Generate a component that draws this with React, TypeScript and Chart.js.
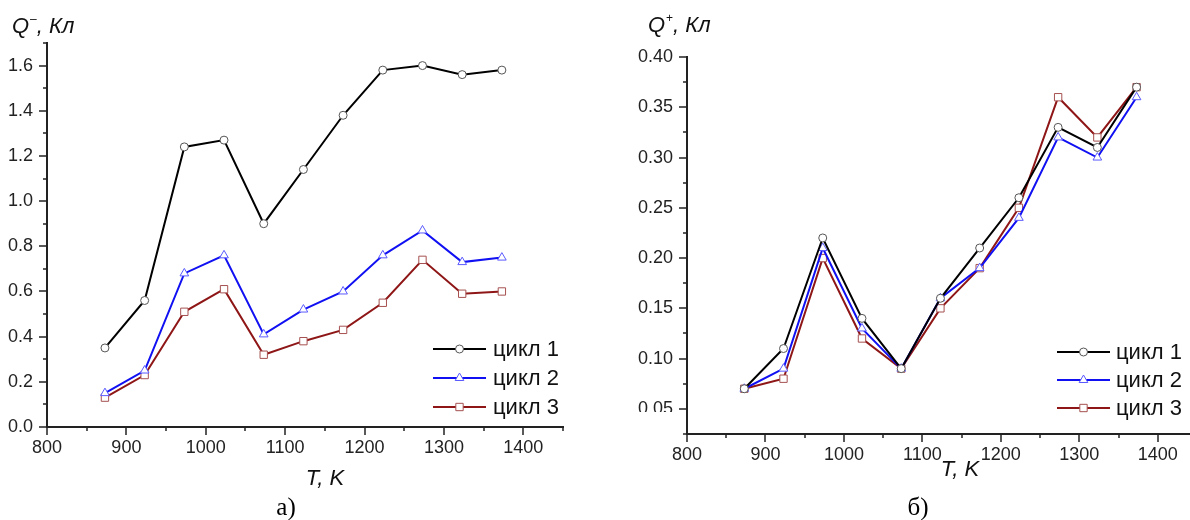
import React, { useEffect, useRef } from 'react';
import { Chart, registerables } from 'chart.js';

Chart.register(...registerables);

// ---------- data ----------
const temperatures = [873, 923, 973, 1023, 1073, 1123, 1173, 1223, 1273, 1323, 1373];

const qNegCycle1 = [0.35, 0.56, 1.24, 1.27, 0.9, 1.14, 1.38, 1.58, 1.6, 1.56, 1.58];
const qNegCycle2 = [0.15, 0.25, 0.68, 0.76, 0.41, 0.52, 0.6, 0.76, 0.87, 0.73, 0.75];
const qNegCycle3 = [0.13, 0.23, 0.51, 0.61, 0.32, 0.38, 0.43, 0.55, 0.74, 0.59, 0.6];

const qPosCycle1 = [0.07, 0.11, 0.22, 0.14, 0.09, 0.16, 0.21, 0.26, 0.33, 0.31, 0.37];
const qPosCycle2 = [0.07, 0.09, 0.21, 0.13, 0.09, 0.16, 0.19, 0.24, 0.32, 0.3, 0.36];
const qPosCycle3 = [0.07, 0.08, 0.2, 0.12, 0.09, 0.15, 0.19, 0.25, 0.36, 0.32, 0.37];

const seriesLabels = ['цикл 1', 'цикл 2', 'цикл 3'];
const xAxisTitle = 'T, K';
const yUnit = ', Кл';

// ---------- styles ----------
const SANS = '"Liberation Sans", Arial, sans-serif';
const SERIF = '"Liberation Serif", "Times New Roman", serif';

const seriesStyles = [
  { line: '#000000', point: '#555555', shape: 'circle', r: 4 },
  { line: '#1010f2', point: '#5a5aff', shape: 'triangle', r: 5 },
  { line: '#8e1616', point: '#a65050', shape: 'rect', r: 5.2 },
];

function drawMarker(ctx: CanvasRenderingContext2D, shape: string, x: number, y: number, r: number, stroke: string) {
  ctx.save();
  ctx.fillStyle = '#ffffff';
  ctx.strokeStyle = stroke;
  ctx.lineWidth = 1;
  ctx.beginPath();
  if (shape === 'circle') {
    ctx.arc(x, y, r, 0, Math.PI * 2);
  } else if (shape === 'triangle') {
    ctx.moveTo(x, y - r);
    ctx.lineTo(x + r * 0.866, y + r * 0.5);
    ctx.lineTo(x - r * 0.866, y + r * 0.5);
    ctx.closePath();
  } else {
    const s = r * Math.SQRT1_2;
    ctx.rect(x - s, y - s, 2 * s, 2 * s);
  }
  ctx.fill();
  ctx.stroke();
  ctx.restore();
}

const isMultiple = (v: number, step: number) => Math.abs(v / step - Math.round(v / step)) < 1e-6;

const decorPlugin = {
  id: 'decor',
  afterDraw(chart: any, _args: any, opts: any) {
    const ctx: CanvasRenderingContext2D = chart.ctx;
    const area = chart.chartArea;
    const xs = chart.scales.x;
    const ys = chart.scales.y;
    ctx.save();

    if (opts.mask) {
      ctx.fillStyle = '#ffffff';
      ctx.fillRect(opts.mask[0], opts.mask[1], opts.mask[2], opts.mask[3]);
    }

    // ticks
    ctx.strokeStyle = '#222222';
    ctx.lineWidth = 1.5;
    xs.ticks.forEach((t: any) => {
      const px = Math.round(xs.getPixelForValue(t.value));
      const len = isMultiple(t.value, opts.xMajor) ? 8 : 4;
      ctx.beginPath();
      ctx.moveTo(px, area.bottom);
      ctx.lineTo(px, area.bottom + len);
      ctx.stroke();
    });
    ys.ticks.forEach((t: any) => {
      const py = Math.round(ys.getPixelForValue(t.value));
      const len = isMultiple(t.value, opts.yMajor) ? 8 : 4;
      ctx.beginPath();
      ctx.moveTo(area.left, py);
      ctx.lineTo(area.left - len, py);
      ctx.stroke();
    });

    // y title with superscript
    ctx.fillStyle = '#111111';
    ctx.textAlign = 'left';
    ctx.textBaseline = 'alphabetic';
    let tx = opts.yTitle.x;
    const ty = opts.yTitle.y;
    ctx.font = `italic 22px ${SANS}`;
    ctx.fillText('Q', tx, ty);
    tx += ctx.measureText('Q').width;
    ctx.font = `12px ${SANS}`;
    ctx.fillText(opts.yTitle.sup, tx + 1, ty - 10);
    tx += ctx.measureText(opts.yTitle.sup).width + 1;
    ctx.font = `italic 22px ${SANS}`;
    ctx.fillText(yUnit, tx, ty);

    // x title
    ctx.textAlign = 'center';
    ctx.font = `italic 22px ${SANS}`;
    ctx.fillText(xAxisTitle, opts.xTitle.x, opts.xTitle.y);

    // panel letter
    ctx.font = `25px ${SERIF}`;
    ctx.fillStyle = '#000000';
    ctx.fillText(opts.letter.text, opts.letter.x, opts.letter.y);

    // legend
    const lg = opts.legend;
    seriesLabels.forEach((label, i) => {
      const st = seriesStyles[i];
      const y = lg.y0 + i * lg.dy;
      ctx.strokeStyle = st.line;
      ctx.lineWidth = 2;
      ctx.beginPath();
      ctx.moveTo(lg.x1, y);
      ctx.lineTo(lg.x2, y);
      ctx.stroke();
      drawMarker(ctx, st.shape, (lg.x1 + lg.x2) / 2, y, st.r, st.point);
      ctx.fillStyle = '#111111';
      ctx.font = `22px ${SANS}`;
      ctx.textAlign = 'left';
      ctx.textBaseline = 'middle';
      ctx.fillText(label, lg.tx, y + 1);
    });

    ctx.restore();
  },
};

function makeConfig(series: number[][], p: any) {
  const datasets = series.map((vals, i) => {
    const st = seriesStyles[i];
    return {
      label: seriesLabels[i],
      data: temperatures.map((t, j) => ({ x: t, y: vals[j] })),
      borderColor: st.line,
      borderWidth: 2,
      pointStyle: st.shape,
      pointRadius: st.r,
      pointBackgroundColor: '#ffffff',
      pointBorderColor: st.point,
      pointBorderWidth: 1,
      tension: 0,
      fill: false,
    };
  });
  const tickFont = { family: SANS, size: 18 };
  return {
    type: 'line',
    data: { datasets },
    options: {
      animation: false,
      responsive: false,
      events: [],
      layout: { padding: p.padding },
      plugins: {
        legend: { display: false },
        tooltip: { enabled: false },
        decor: p.decor,
      },
      scales: {
        x: {
          type: 'linear',
          min: 800,
          max: 1450,
          afterFit: (s: any) => { s.height = 40; },
          border: { display: true, color: '#222222', width: 2 },
          grid: { display: true, drawOnChartArea: false, drawTicks: true, tickLength: 8, tickColor: 'rgba(0,0,0,0)' },
          ticks: {
            stepSize: 50,
            autoSkip: false,
            maxRotation: 0,
            padding: 2,
            color: '#222222',
            font: tickFont,
            callback: (v: number) => (isMultiple(v, 100) ? String(Math.round(v)) : ''),
          },
        },
        y: {
          type: 'linear',
          min: p.yMin,
          max: p.yMax,
          afterFit: (s: any) => { s.width = p.yWidth; },
          border: { display: true, color: '#222222', width: 2 },
          grid: { display: true, drawOnChartArea: false, drawTicks: true, tickLength: 8, tickColor: 'rgba(0,0,0,0)' },
          ticks: {
            stepSize: p.yStep,
            autoSkip: false,
            padding: 6,
            color: '#222222',
            font: tickFont,
            callback: (v: number) => (isMultiple(v, p.yMajor) ? Number(v).toFixed(p.decimals) : ''),
          },
        },
      },
    },
    plugins: [decorPlugin],
  };
}

const leftConfig = makeConfig([qNegCycle1, qNegCycle2, qNegCycle3], {
  padding: { left: 0, top: 43, right: 32, bottom: 53 },
  yMin: 0,
  yMax: 1.7,
  yStep: 0.1,
  yMajor: 0.2,
  decimals: 1,
  yWidth: 47,
  decor: {
    xMajor: 100,
    yMajor: 0.2,
    yTitle: { x: 12, y: 33, sup: '–' },
    xTitle: { x: 325, y: 485 },
    letter: { text: 'а)', x: 286, y: 515 },
    legend: { x1: 433, x2: 486, tx: 493, y0: 349, dy: 29 },
  },
});

const rightConfig = makeConfig([qPosCycle1, qPosCycle2, qPosCycle3], {
  padding: { left: 0, top: 57, right: 18, bottom: 46 },
  yMin: 0.025,
  yMax: 0.4,
  yStep: 0.025,
  yMajor: 0.05,
  decimals: 2,
  yWidth: 92,
  decor: {
    xMajor: 100,
    yMajor: 0.05,
    mask: [20, 412, 63, 16],
    yTitle: { x: 53, y: 32, sup: '+' },
    xTitle: { x: 365, y: 476 },
    letter: { text: 'б)', x: 323, y: 515 },
    legend: { x1: 462, x2: 515, tx: 521, y0: 352, dy: 28 },
  },
});

function ChartPanel({ config, left, width }: { config: any; left: number; width: number }) {
  const ref = useRef<HTMLCanvasElement>(null);
  useEffect(() => {
    const chart = new Chart(ref.current as HTMLCanvasElement, config);
    return () => chart.destroy();
  }, [config]);
  return (
    <canvas
      ref={ref}
      width={width}
      height={520}
      style={{ position: 'absolute', left, top: 0, width, height: 520 }}
    />
  );
}

export default function App() {
  return (
    <div
      style={{
        position: 'absolute',
        left: 0,
        top: 0,
        width: 1190,
        height: 520,
        overflow: 'hidden',
        background: '#ffffff',
      }}
    >
      <ChartPanel config={leftConfig} left={0} width={595} />
      <ChartPanel config={rightConfig} left={595} width={620} />
    </div>
  );
}
